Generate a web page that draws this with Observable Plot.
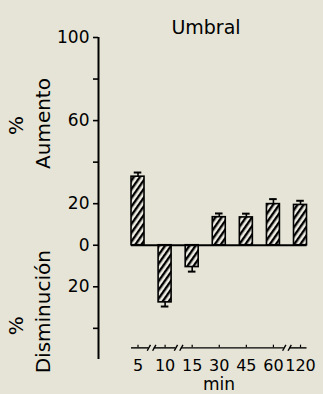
<!DOCTYPE html>
<html>
<head>
<meta charset="utf-8">
<script src="https://cdn.jsdelivr.net/npm/d3@7"></script>
<script src="https://cdn.jsdelivr.net/npm/@observablehq/plot@0.6"></script>
<style>
  html, body { margin: 0; padding: 0; background: #e6e4d6; }
</style>
</head>
<body>
<div id="chart"></div>
<script>
const categories = ["5", "10", "15", "30", "45", "60", "120"];
const values = [33, -27.5, -10.5, 13.5, 13.4, 19.8, 19.4];
const errors = [2, 2, 2.2, 1.8, 1.8, 2.4, 2];
const yTicks = [100, 80, 60, 40, 20, 0, -20, -40];
const yTickLabels = [100, 60, 20, 0, -20];
const axisBreaks = [0.5, 1.5, 5.5];
const title = "Umbral";
const xTitle = "min";

const BG = "#e6e4d6";
const data = categories.map((c, i) => ({i, c, v: values[i], e: errors[i]}));
const xDomain = [-1.459, 6.258];
const yDomain = [-55, 100];
const xAxisY = -49.4;
const hw = 0.24;

// bottom axis segments between breaks
const bounds = [-hw, ...axisBreaks, categories.length - 1 + hw];
const segments = [];
for (let k = 0; k < bounds.length - 1; k++) {
  segments.push({
    x1: k === 0 ? bounds[k] : bounds[k] + 0.1,
    x2: k === bounds.length - 2 ? bounds[k + 1] : bounds[k + 1] - 0.1
  });
}
const slashes = axisBreaks.flatMap(b => [b - 0.1, b + 0.1]);

const chart = Plot.plot({
  width: 323,
  height: 394,
  marginLeft: 98,
  marginRight: 16,
  marginTop: 37,
  marginBottom: 35,
  style: {fontFamily: "DejaVu Sans", fontSize: "17px", background: BG, color: "black", overflow: "visible"},
  x: {type: "linear", domain: xDomain, axis: null},
  y: {domain: yDomain, axis: null},
  marks: [
    Plot.rectY(data, {x1: d => d.i - hw, x2: d => d.i + hw, y1: 0, y2: "v", fill: "url(#hatch)", stroke: "black", strokeWidth: 1.6}),
    Plot.ruleX(data, {x: "i", y1: "v", y2: d => d.v + Math.sign(d.v) * d.e, strokeWidth: 1.6}),
    Plot.ruleY(data, {y: d => d.v + Math.sign(d.v) * d.e, x1: d => d.i - 0.14, x2: d => d.i + 0.14, strokeWidth: 2}),
    Plot.ruleY([0], {x1: -hw, x2: categories.length - 1 + hw, strokeWidth: 2.2}),
    // y axis
    Plot.ruleX([xDomain[0]], {y1: yDomain[0], y2: 100, strokeWidth: 2}),
    Plot.axisY({ticks: yTicks, tickSize: 5, tickPadding: 4, strokeWidth: 1.6, fontSize: 17, label: null,
      tickFormat: d => yTickLabels.includes(d) ? String(Math.abs(d)) : ""}),
    // bottom axis
    Plot.ruleY(segments, {y: xAxisY, x1: "x1", x2: "x2", strokeWidth: 1.4}),
    Plot.ruleX(data, {x: "i", y1: xAxisY, y2: xAxisY + 1.3, strokeWidth: 1.2}),
    Plot.link(slashes, {x1: d => d - 0.06, x2: d => d + 0.06, y1: xAxisY - 1.4, y2: xAxisY + 1.4, strokeWidth: 1.4}),
    Plot.text(data, {x: "i", y: xAxisY, text: "c", dy: 18, fontSize: 16}),
    Plot.text([xTitle], {frameAnchor: "bottom", dx: 16, dy: 30.5, fontSize: 17}),
    // title
    Plot.text([title], {frameAnchor: "top", dx: 3, dy: -17, fontSize: 19}),
    // y labels
    Plot.text(["Aumento"], {frameAnchor: "left", textAnchor: "middle", y: 58.6, dx: -55, rotate: -90, fontSize: 20}),
    Plot.text(["%"], {frameAnchor: "left", textAnchor: "middle", y: 57.6, dx: -82, rotate: -90, fontSize: 20}),
    Plot.text(["Disminución"], {frameAnchor: "left", textAnchor: "middle", y: -32, dx: -55, rotate: -90, fontSize: 20}),
    Plot.text(["%"], {frameAnchor: "left", textAnchor: "middle", y: -38.8, dx: -82, rotate: -90, fontSize: 20})
  ]
});

const ns = "http://www.w3.org/2000/svg";
const defs = document.createElementNS(ns, "defs");
const pat = document.createElementNS(ns, "pattern");
pat.setAttribute("id", "hatch");
pat.setAttribute("patternUnits", "userSpaceOnUse");
pat.setAttribute("width", "5");
pat.setAttribute("height", "5");
pat.setAttribute("patternTransform", "rotate(35)");
const prect = document.createElementNS(ns, "rect");
prect.setAttribute("width", "5");
prect.setAttribute("height", "5");
prect.setAttribute("fill", "#f0eee4");
const pline = document.createElementNS(ns, "line");
pline.setAttribute("x1", "1.2");
pline.setAttribute("y1", "0");
pline.setAttribute("x2", "1.2");
pline.setAttribute("y2", "5");
pline.setAttribute("stroke", "black");
pline.setAttribute("stroke-width", "2.4");
pat.appendChild(prect);
pat.appendChild(pline);
defs.appendChild(pat);
chart.insertBefore(defs, chart.firstChild);

document.getElementById("chart").appendChild(chart);
</script>
</body>
</html>
